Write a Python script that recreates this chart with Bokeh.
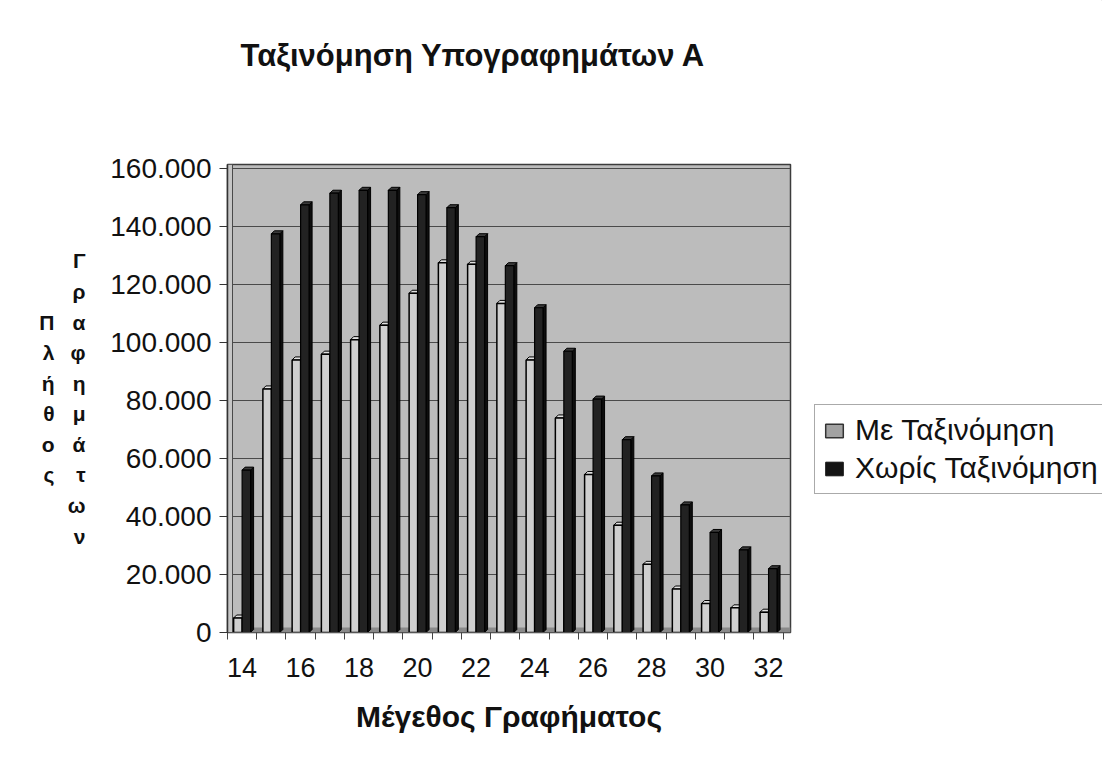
from bokeh.plotting import figure
from bokeh.layouts import row, column
from bokeh.models import (FixedTicker, Legend, LegendItem, LinearAxis, Range1d,
                          Label)
from bokeh.embed import file_html
from bokeh.resources import INLINE

# Graph size (number of vertices) on the category axis
sizes = [14, 15, 16, 17, 18, 19, 20, 21, 22, 23, 24, 25, 26, 27, 28, 29, 30, 31, 32]

# Number of subgraphs found, with and without sorting
with_sort = [5000, 84000, 94000, 96000, 101000, 106000, 117000, 127500, 127000,
             113500, 94000, 74000, 54500, 37000, 23500, 15000, 10000, 8500, 7000]
without_sort = [56000, 137500, 147500, 151500, 152500, 152500, 151000, 146500,
                136500, 126500, 112000, 97000, 80500, 66500, 54000, 44000,
                34500, 28500, 22000]

y_ticks = [0, 20000, 40000, 60000, 80000, 100000, 120000, 140000, 160000]
y_tick_labels = ["0", "20.000", "40.000", "60.000", "80.000", "100.000",
                 "120.000", "140.000", "160.000"]
x_tick_labels = [14, 16, 18, 20, 22, 24, 26, 28, 30, 32]

title_text = "Ταξινόμηση Υπογραφημάτων Α"
x_title = "Μέγεθος Γραφήματος"
y_title_1 = "Πλήθος"
y_title_2 = "Γραφημάτων"
series_names = ["Με Ταξινόμηση", "Χωρίς Ταξινόμηση"]

FONT = "Liberation Sans"

W, H = 1102, 783
TOP_H = 100                                  # height of the title strip
FL, FR, FT, FB = 227, 790, 164, 632          # frame edges on the page
CHART_W = FR + 2
CHART_H = H - TOP_H
Y_MAX = 161400

# ---- title strip (its frame lines up with the chart frame) -------------
t = figure(width=CHART_W, height=TOP_H, output_backend="svg",
           toolbar_location=None, min_border=0, x_axis_type=None,
           y_axis_type=None, outline_line_color=None,
           background_fill_color="white", border_fill_color="white",
           x_range=Range1d(0, 1), y_range=Range1d(0, 1))
t.grid.visible = False
t.add_layout(Label(x=240 - FL, y=45, x_units="screen", y_units="screen",
                   text=title_text, text_font=FONT, text_font_size="31px",
                   text_font_style="bold", text_align="left",
                   text_baseline="alphabetic", text_color="#111111"))

# ---- main chart --------------------------------------------------------
p = figure(width=CHART_W, height=CHART_H, output_backend="svg",
           toolbar_location=None,
           x_range=Range1d(13.5, 32.75), y_range=Range1d(0, Y_MAX),
           min_border_left=FL, min_border_right=CHART_W - FR,
           min_border_top=FT - TOP_H, min_border_bottom=H - FB,
           background_fill_color="#bcbcbc", border_fill_color="white",
           outline_line_color="#3c3c3c", outline_line_width=1.5)

# depth offsets for the pseudo-3D look (3 px right, 3 px up)
px_x = (32.75 - 13.5) / (FR - FL)
px_y = Y_MAX / (FB - FT)
dx, dy = 3 * px_x, 3 * px_y

# floor and side wall
p.quad(left=[13.5], right=[32.75], bottom=[0], top=[5 * px_y],
       fill_color="#8a8a8a", line_color=None)
p.quad(left=[13.5], right=[13.5 + 5 * px_x], bottom=[0], top=[Y_MAX],
       fill_color="#c6c6c6", line_color="#4a4a4a", line_width=1)

BW = 0.29


def faces(xs, vals, left_off, right_off):
    side_x, side_y, top_x, top_y = [], [], [], []
    for c, v in zip(xs, vals):
        l, r = c + left_off, c + right_off
        side_x.append([r, r + dx, r + dx, r])
        side_y.append([0, dy, v + dy, v])
        top_x.append([l, l + dx, r + dx, r])
        top_y.append([v, v + dy, v + dy, v])
    return side_x, side_y, top_x, top_y


# sorted series (light columns)
sx, sy, tx, ty = faces(sizes, with_sort, -BW, 0.0)
p.patches(sx, sy, fill_color="#a8a8a8", line_color="black", line_width=1)
p.patches(tx, ty, fill_color="#e0e0e0", line_color="black", line_width=1)
p.vbar(x=[c - BW / 2 for c in sizes], top=with_sort, width=BW,
       bottom=0, fill_color="#cfcfcf", line_color="black", line_width=1.5)

# unsorted series (dark columns)
sx, sy, tx, ty = faces(sizes, without_sort, 0.0, BW)
p.patches(sx, sy, fill_color="#0e0e0e", line_color="black", line_width=1)
p.patches(tx, ty, fill_color="#3a3a3a", line_color="black", line_width=1)
p.vbar(x=[c + BW / 2 for c in sizes], top=without_sort, width=BW,
       bottom=0, fill_color="#222222", line_color="black", line_width=1.2)

# value axis
p.yaxis.ticker = FixedTicker(ticks=y_ticks)
p.yaxis.major_label_overrides = dict(zip(y_ticks, y_tick_labels))
p.yaxis.major_label_text_font = FONT
p.yaxis.major_label_text_font_size = "28px"
p.yaxis.major_label_text_color = "#111111"
p.yaxis.major_tick_out = 8
p.yaxis.major_tick_in = 0
p.yaxis.major_tick_line_color = "#333333"
p.yaxis.minor_tick_line_color = None
p.yaxis.axis_line_color = "#333333"
p.yaxis.axis_line_width = 1.5
p.yaxis.major_label_standoff = 8

# stacked vertical value-axis title: two columns of letters
for word, standoff in ((y_title_2, 22), (y_title_1, 10)):
    ax = LinearAxis(ticker=FixedTicker(ticks=[]), axis_line_color=None,
                    major_tick_line_color=None, minor_tick_line_color=None,
                    major_label_text_font_size="0px",
                    axis_label="\n".join(word),
                    axis_label_orientation="horizontal",
                    axis_label_standoff=standoff,
                    axis_label_text_font=FONT,
                    axis_label_text_font_size="21px",
                    axis_label_text_font_style="bold",
                    axis_label_text_color="#111111",
                    axis_label_text_line_height=1.33,
                    axis_label_text_align="center")
    p.add_layout(ax, "left")

# category axis
p.xaxis.ticker = FixedTicker(ticks=x_tick_labels,
                             minor_ticks=[c - 0.5 for c in sizes] + [32.5])
p.xaxis.major_tick_out = 0
p.xaxis.major_tick_in = 0
p.xaxis.minor_tick_out = 7
p.xaxis.minor_tick_in = 0
p.xaxis.minor_tick_line_color = "#444444"
p.xaxis.axis_line_color = "#555555"
p.xaxis.major_label_text_font = FONT
p.xaxis.major_label_text_font_size = "27px"
p.xaxis.major_label_text_color = "#111111"
p.xaxis.major_label_standoff = 18
p.xaxis.axis_label = x_title
p.xaxis.axis_label_text_font = FONT
p.xaxis.axis_label_text_font_size = "30px"
p.xaxis.axis_label_text_font_style = "bold"
p.xaxis.axis_label_text_color = "#111111"
p.xaxis.axis_label_standoff = 20

p.xgrid.grid_line_color = None
p.ygrid.grid_line_color = "#4a4a4a"
p.ygrid.grid_line_width = 1

# ---- legend strip ------------------------------------------------------
leg_w = W - CHART_W
q = figure(width=leg_w, height=H, output_backend="svg", toolbar_location=None,
           min_border=0, x_axis_type=None, y_axis_type=None,
           outline_line_color=None, background_fill_color="white",
           border_fill_color="white", x_range=Range1d(0, 1),
           y_range=Range1d(0, 1))
q.grid.visible = False
# swatch renderers kept outside the visible range; only their legend glyphs show
sw1 = q.vbar(x=[5], top=[5], bottom=[4], width=1, fill_color="#a2a2a2",
             line_color="#333333", line_width=1.5)
sw2 = q.vbar(x=[5], top=[5], bottom=[4], width=1, fill_color="#141414",
             line_color="#141414")
legend = Legend(items=[LegendItem(label=series_names[0], renderers=[sw1]),
                       LegendItem(label=series_names[1], renderers=[sw2])],
                location=(814 - CHART_W, 289), orientation="vertical",
                label_text_font=FONT, label_text_font_size="30px",
                label_text_color="#111111",
                glyph_width=22, glyph_height=17, label_standoff=10,
                padding=8, spacing=4, margin=0,
                border_line_color="#555555", border_line_width=1,
                background_fill_color="white", background_fill_alpha=1)
q.add_layout(legend, "center")

open("out.html", "w").write(
    file_html(row(column(t, p), q), INLINE))
